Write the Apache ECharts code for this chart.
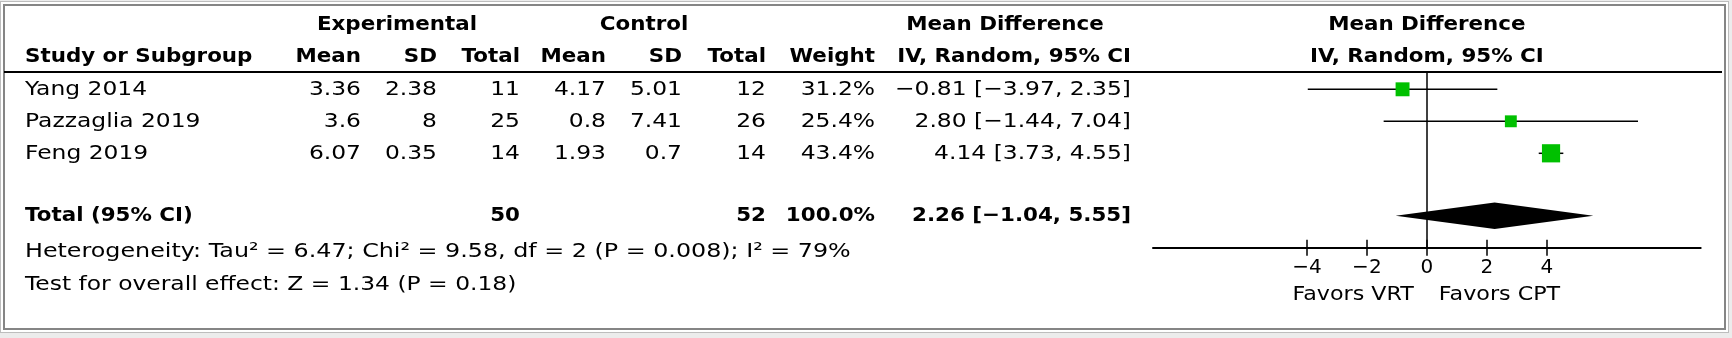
<!DOCTYPE html>
<html><head><meta charset="utf-8">
<script src="https://cdn.jsdelivr.net/npm/echarts@6/dist/echarts.min.js"></script>
<style>
html,body{margin:0;padding:0;background:#ececec;width:1732px;height:338px;overflow:hidden;}
#frame{position:absolute;left:0;top:1px;width:1729px;height:332px;box-sizing:border-box;border:1px solid #bdbdbd;background:#fff;box-shadow:inset 0 0 0 2px #fff, inset 0 0 0 4px #858585;}
#chart{position:absolute;left:0;top:0;width:1732px;height:338px;}
</style></head><body><div id="frame"></div><div id="chart"></div>
<script>
// ---- data ----
const studies   = ['Yang 2014', 'Pazzaglia 2019', 'Feng 2019'];
const expMean   = [3.36, 3.6, 6.07];
const expSD     = [2.38, 8, 0.35];
const expTotal  = [11, 25, 14];
const ctlMean   = [4.17, 0.8, 1.93];
const ctlSD     = [5.01, 7.41, 0.7];
const ctlTotal  = [12, 26, 14];
const weight    = [31.2, 25.4, 43.4];
const md        = [-0.81, 2.80, 4.14];
const ciLow     = [-3.97, -1.44, 3.73];
const ciHigh    = [2.35, 7.04, 4.55];
const totalExp  = 50;
const totalCtl  = 52;
const totalWeight = 100.0;
const totalMd   = 2.26;
const totalLow  = -1.04;
const totalHigh = 5.55;
const tickValues = [-4, -2, 0, 2, 4];
const heterogeneity = 'Heterogeneity: Tau\u00B2 = 6.47; Chi\u00B2 = 9.58, df = 2 (P = 0.008); I\u00B2 = 79%';
const overallTest = 'Test for overall effect: Z = 1.34 (P = 0.18)';
const favorsLeft = 'Favors VRT';
const favorsRight = 'Favors CPT';

// ---- layout / style ----
const FONT = '"DejaVu Sans"';
const FS = 20;
const SX_REG = 1.17, SX_BOLD = 1.07;
const gridTop = 71.7, gridBottomY = 247.7;
const yMin = -0.55, yMax = 4.95, totalRow = 3.95;
const rowH = (gridBottomY - gridTop) / (yMax - yMin);
const fmt = v => v.toFixed(2).replace('-', '\u2212');

const chart = echarts.init(document.getElementById('chart'), null, {renderer: 'canvas'});

function txt(x, y, text, align, bold, sx) {
  return {
    type: 'text', x: x, y: y, scaleX: sx || (bold ? SX_BOLD : SX_REG), z: 10,
    style: {
      text: text, x: 0, y: 0, align: align, verticalAlign: 'middle',
      fontFamily: FONT, fontSize: FS, fontWeight: bold ? 'bold' : 'normal', fill: '#000'
    }
  };
}

const rowY = r => gridTop + (r - yMin) * rowH;
const cols = {study: 25, expMean: 361, expSD: 437, expTotal: 520, ctlMean: 606, ctlSD: 682, ctlTotal: 766, weight: 875, md: 1131};

function buildGraphics(zeroX) {
  const g = [];
  // header
  g.push(txt(397, 25, 'Experimental', 'center', true));
  g.push(txt(644, 25, 'Control', 'center', true));
  g.push(txt(1005, 25, 'Mean Difference', 'center', true));
  g.push(txt(zeroX, 25, 'Mean Difference', 'center', true));
  const h2 = 57;
  g.push(txt(cols.study, h2, 'Study or Subgroup', 'left', true));
  g.push(txt(cols.expMean, h2, 'Mean', 'right', true));
  g.push(txt(cols.expSD, h2, 'SD', 'right', true));
  g.push(txt(cols.expTotal, h2, 'Total', 'right', true));
  g.push(txt(cols.ctlMean, h2, 'Mean', 'right', true));
  g.push(txt(cols.ctlSD, h2, 'SD', 'right', true));
  g.push(txt(cols.ctlTotal, h2, 'Total', 'right', true));
  g.push(txt(cols.weight, h2, 'Weight', 'right', true));
  g.push(txt(cols.md, h2, 'IV, Random, 95% CI', 'right', true));
  g.push(txt(zeroX, h2, 'IV, Random, 95% CI', 'center', true));
  // header rule
  g.push({type: 'line', z: 10, shape: {x1: 4, y1: 72, x2: 1722, y2: 72}, style: {stroke: '#000', lineWidth: 2}});
  // study rows
  studies.forEach((s, i) => {
    const y = rowY(i);
    g.push(txt(cols.study, y, s, 'left', false));
    g.push(txt(cols.expMean, y, String(expMean[i]), 'right', false));
    g.push(txt(cols.expSD, y, String(expSD[i]), 'right', false));
    g.push(txt(cols.expTotal, y, String(expTotal[i]), 'right', false));
    g.push(txt(cols.ctlMean, y, String(ctlMean[i]), 'right', false));
    g.push(txt(cols.ctlSD, y, String(ctlSD[i]), 'right', false));
    g.push(txt(cols.ctlTotal, y, String(ctlTotal[i]), 'right', false));
    g.push(txt(cols.weight, y, weight[i].toFixed(1) + '%', 'right', false));
    g.push(txt(cols.md, y, fmt(md[i]) + ' [' + fmt(ciLow[i]) + ', ' + fmt(ciHigh[i]) + ']', 'right', false));
  });
  // total row
  const ty = rowY(totalRow);
  g.push(txt(cols.study, ty, 'Total (95% CI)', 'left', true));
  g.push(txt(cols.expTotal, ty, String(totalExp), 'right', true));
  g.push(txt(cols.ctlTotal, ty, String(totalCtl), 'right', true));
  g.push(txt(cols.weight, ty, totalWeight.toFixed(1) + '%', 'right', true));
  g.push(txt(cols.md, ty, fmt(totalMd) + ' [' + fmt(totalLow) + ', ' + fmt(totalHigh) + ']', 'right', true));
  // footnotes
  g.push(txt(cols.study, 252, heterogeneity, 'left', false, 1.19));
  g.push(txt(cols.study, 285, overallTest, 'left', false));
  // favours
  g.push(txt(zeroX - 13, 295, favorsLeft, 'right', false, 1.11));
  g.push(txt(zeroX + 12, 295, favorsRight, 'left', false, 1.11));
  return g;
}

const xMin = -9.13, xMax = 9.13;
const option = {
  backgroundColor: 'transparent',
  animation: false,
  grid: {left: 1153, right: 1732 - 1700.7, top: gridTop, bottom: 338 - gridBottomY},
  xAxis: [{
    type: 'value', min: xMin, max: xMax, position: 'bottom',
    axisLine: {show: true, onZero: false, lineStyle: {color: '#000', width: 2}},
    axisTick: {show: true, customValues: tickValues, length: 8, lineStyle: {color: '#000', width: 1.5}},
    axisLabel: {show: true, customValues: tickValues, margin: 10, color: '#000', fontSize: FS, fontFamily: FONT,
      formatter: v => String(v).replace('-', '\u2212')},
    splitLine: {show: false}
  }, {
    type: 'value', min: xMin, max: xMax, position: 'bottom', gridIndex: 0,
    axisLine: {show: false, onZero: false},
    axisTick: {show: true, inside: true, customValues: tickValues, length: 8, lineStyle: {color: '#000', width: 1.5}},
    axisLabel: {show: false},
    splitLine: {show: false}
  }],
  yAxis: {
    type: 'value', inverse: true, min: yMin, max: yMax,
    axisLine: {show: true, onZero: true, onZeroAxisIndex: 0, lineStyle: {color: '#000', width: 1.5}},
    axisTick: {show: false}, axisLabel: {show: false}, splitLine: {show: false}
  },
  series: [{
    type: 'custom', name: 'ci', z: 3,
    data: studies.map((s, i) => [ciLow[i], ciHigh[i], i]),
    encode: {x: [0, 1], y: 2},
    renderItem: (params, api) => {
      const p1 = api.coord([api.value(0), api.value(2)]);
      const p2 = api.coord([api.value(1), api.value(2)]);
      return {type: 'line', shape: {x1: p1[0], y1: p1[1], x2: p2[0], y2: p2[1]}, style: {stroke: '#000', lineWidth: 1.5}};
    }
  }, {
    type: 'scatter', name: 'md', z: 4,
    data: md.map((v, i) => [v, i, weight[i]]),
    symbol: 'rect',
    symbolSize: d => 3 + 0.35 * d[2],
    itemStyle: {color: '#00c000', opacity: 1}
  }, {
    type: 'custom', name: 'total', z: 4,
    data: [[totalLow, totalMd, totalHigh, totalRow]],
    encode: {x: [0, 1, 2], y: 3},
    renderItem: (params, api) => {
      const row = api.value(3);
      const l = api.coord([api.value(0), row]);
      const m = api.coord([api.value(1), row]);
      const r = api.coord([api.value(2), row]);
      const h = 13.3;
      return {type: 'polygon', shape: {points: [[l[0], l[1]], [m[0], m[1] - h], [r[0], r[1]], [m[0], m[1] + h]]},
        style: {fill: '#000'}};
    }
  }]
};
chart.setOption(option);
const zeroX = chart.convertToPixel({xAxisIndex: 0}, 0);
chart.setOption({graphic: buildGraphics(zeroX)});
</script></body></html>
